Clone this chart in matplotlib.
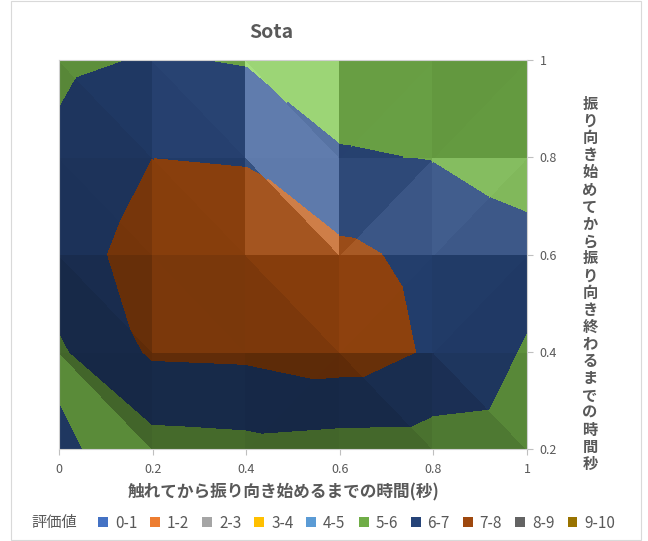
import numpy as np
import matplotlib
matplotlib.use("Agg")
import matplotlib.pyplot as plt
import matplotlib.colors as mcolors
from matplotlib.tri import Triangulation
from matplotlib.patches import Patch, Rectangle

plt.rcParams['font.family'] = ['Noto Sans CJK JP', 'DejaVu Sans']

# ---------------- data ----------------
title = "Sota"
x_label = "触れてから振り向き始めるまでの時間(秒)"
y_label = "振り向き始めてから振り向き終わるまでの時間秒"
legend_title = "評価値"

x_vals = [0.0, 0.2, 0.4, 0.6, 0.8, 1.0]
y_vals = [0.2, 0.4, 0.6, 0.8, 1.0]
# rating values, one row per y value (bottom to top)
z_y02 = [6.12, 5.61, 5.70, 5.57, 5.53, 5.38]
z_y04 = [5.85, 7.13, 7.19, 7.49, 6.88, 5.89]
z_y06 = [6.56, 7.40, 7.49, 7.20, 6.75, 6.39]
z_y08 = [6.22, 6.99, 6.94, 6.10, 5.95, 5.47]
z_y10 = [5.77, 6.08, 5.92, 5.30, 5.20, 5.30]

band_labels = ['0-1', '1-2', '2-3', '3-4', '4-5', '5-6', '6-7', '7-8', '8-9', '9-10']
band_levels = [0, 1, 2, 3, 4, 5, 6, 7, 8, 9, 10]
band_colors = ['#4472C4', '#ED7D31', '#A5A5A5', '#FFC000', '#5B9BD5',
               '#70AD47', '#264478', '#9E480E', '#636363', '#997300']

x_ticks = [0, 0.2, 0.4, 0.6, 0.8, 1.0]
x_tick_labels = ['0', '0.2', '0.4', '0.6', '0.8', '1']
y_ticks = [0.2, 0.4, 0.6, 0.8, 1.0]
y_tick_labels = ['0.2', '0.4', '0.6', '0.8', '1']

# surface mesh split per cell: 'd' = diagonal top-left/bottom-right, 'a' = bottom-left/top-right
cell_split = [
    ['d', 'a', 'a', 'd', 'd'],
    ['d', 'd', 'd', 'a', 'a'],
    ['d', 'd', 'd', 'a', 'a'],
    ['d', 'd', 'd', 'a', 'a'],
]

# ---------------- style ----------------
W, H = 648, 541
TEXT = '#595959'
AXC = '#BFBFBF'
light = np.array([0.5, 0.5, 0.707])
light = light / np.linalg.norm(light)
half = np.array([0.33, 0.43, 0.84])
half = half / np.linalg.norm(half)
zscale = 0.1
cell_blend = 0.5


def shade(col, n):
    base = np.array(mcolors.to_rgb(col))
    d = max(0.0, float(n @ light))
    spec = 0.24 * max(0.0, float(n @ half)) ** 60
    c = base * (0.5 + 0.45 * d) + spec
    return tuple(np.clip(c, 0, 1))


def plane_grad(px, py, pz):
    A = np.column_stack([px, py, np.ones(len(px))])
    g = np.linalg.lstsq(A, pz, rcond=None)[0]
    return g[0], g[1]


Z = np.array([z_y02, z_y04, z_y06, z_y08, z_y10])
X = np.array(x_vals)
Y = np.array(y_vals)

fig = plt.figure(figsize=(W / 100, H / 100), dpi=100)
ax = fig.add_axes([59 / W, 1 - 449 / H, (527 - 59) / W, (449 - 60) / H])

for r in range(len(Y) - 1):
    for c in range(len(X) - 1):
        bl = (c, r); br = (c + 1, r); tl = (c, r + 1); tr = (c + 1, r + 1)
        cgx = ((Z[r, c + 1] - Z[r, c]) + (Z[r + 1, c + 1] - Z[r + 1, c])) / 2 / (X[c + 1] - X[c])
        cgy = ((Z[r + 1, c] - Z[r, c]) + (Z[r + 1, c + 1] - Z[r, c + 1])) / 2 / (Y[r + 1] - Y[r])
        if cell_split[r][c] == 'd':
            tris = [(bl, br, tl), (br, tr, tl)]
        else:
            tris = [(bl, br, tr), (bl, tr, tl)]
        for tri in tris:
            px = np.array([X[i] for i, j in tri])
            py = np.array([Y[j] for i, j in tri])
            pz = np.array([Z[j, i] for i, j in tri])
            gx, gy = plane_grad(px, py, pz)
            gx = (1 - cell_blend) * gx + cell_blend * cgx
            gy = (1 - cell_blend) * gy + cell_blend * cgy
            n = np.array([-gx * zscale, -gy * zscale, 1.0])
            n = n / np.linalg.norm(n)
            cols = [shade(bc, n) for bc in band_colors]
            tr_obj = Triangulation(px, py, triangles=[[0, 1, 2]])
            cs = ax.tricontourf(tr_obj, pz, levels=band_levels, colors=cols)
            cs.set_edgecolor('face')
            cs.set_linewidth(0.6)

ax.set_xlim(0, 1)
ax.set_ylim(0.2, 1)
ax.yaxis.tick_right()
ax.set_xticks(x_ticks)
ax.set_xticklabels(x_tick_labels)
ax.set_yticks(y_ticks)
ax.set_yticklabels(y_tick_labels)
ax.tick_params(axis='both', colors=AXC, labelcolor=TEXT, labelsize=9, length=4, width=0.8)
ax.tick_params(axis='x', pad=6)
ax.tick_params(axis='y', pad=5)
for sp in ax.spines.values():
    sp.set_color('#D0D0D0')
    sp.set_linewidth(0.8)

fig.text(271 / W, 1 - 33 / H, title, ha='center', va='center', fontsize=14,
         fontweight='bold', color=TEXT)
fig.text(284 / W, 1 - 492 / H, x_label, ha='center', va='center', fontsize=12,
         fontweight='bold', color=TEXT)
fig.text(590 / W, 1 - 284 / H, "\n".join(y_label), ha='center', va='center',
         fontsize=11, fontweight='bold', color=TEXT, linespacing=1.09)

handles = [Patch(facecolor=bc, edgecolor='none') for bc in band_colors]
fig.legend(handles, band_labels, loc='center left', bbox_to_anchor=(98 / W, 1 - 523 / H),
           ncol=10, frameon=False, handlelength=0.65, handleheight=0.65,
           handletextpad=0.45, columnspacing=0.85, fontsize=11, labelcolor=TEXT,
           borderaxespad=0, borderpad=0)
fig.text(31 / W, 1 - 523 / H, legend_title, ha='left', va='center', fontsize=11, color=TEXT)

fig.patches.append(Rectangle((11 / W, 1 / H), 630 / W, 539 / H, transform=fig.transFigure,
                             fill=False, edgecolor='#D9D9D9', linewidth=0.8))

fig.savefig('out.png', dpi=100)
